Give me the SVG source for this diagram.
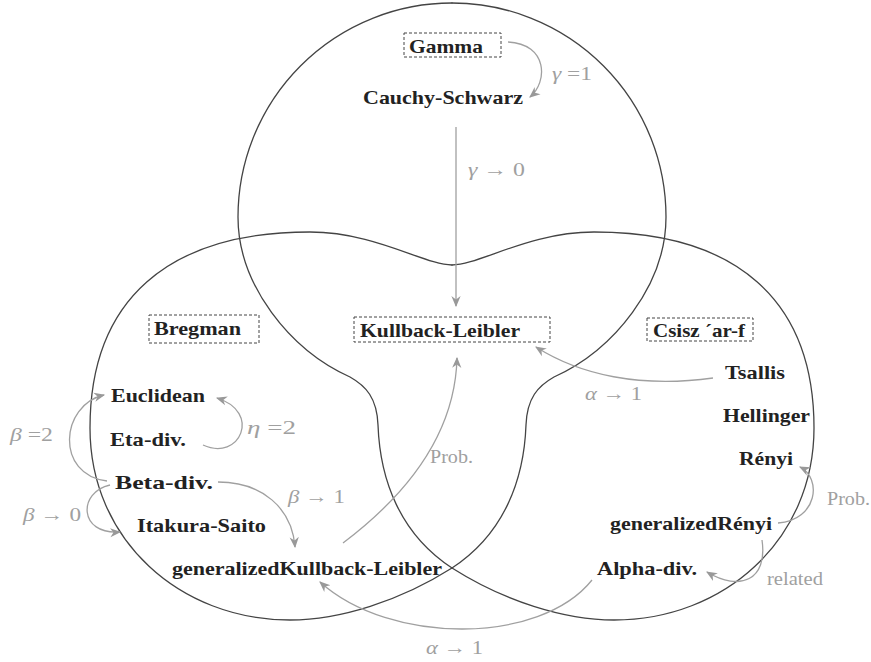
<svg xmlns="http://www.w3.org/2000/svg" width="871" height="662" viewBox="0 0 871 662">
<style>
.blob{fill:none;stroke:#444;stroke-width:1.3;stroke-linecap:round}
.box{fill:none;stroke:#444;stroke-width:1;stroke-dasharray:3 2}
.node{font-family:"Liberation Serif","Times New Roman",serif;font-weight:bold;font-size:19.5px;fill:#222}
.lbl{font-family:"Liberation Serif","Times New Roman",serif;font-size:19px;fill:#a0a0a0}
.it{font-style:italic}
.edge{fill:none;stroke:#a0a0a0;stroke-width:1.3;marker-end:url(#ah)}
</style>
<defs>
<marker id="ah" viewBox="0 0 10 10" refX="9" refY="5" markerWidth="11" markerHeight="11" markerUnits="userSpaceOnUse" orient="auto">
<path d="M0,0.8 L10,5 L0,9.2 L3,5 z" fill="#999"/>
</marker>
</defs>
<rect width="871" height="662" fill="#fff"/>
<g id="regions">
<path class="blob" d="M452,3 A214,214 0 0 0 238,217 C238,285 290,350 350,377 C366,386 377,398 378,425 C380,480 400,534 452,568"/>
<path class="blob" d="M452,3 A214,214 0 0 1 666,217 C666,285 614,350 554,377 C538,386 527,398 526,425 C524,480 504,534 452,568"/>
<path class="blob" d="M452,265 C425,265 375,232 310,232 C168,232 90,300 90,428 C90,540 180,620 290,620 C340,620 400,601 452,568"/>
<path class="blob" d="M452,265 C479,265 529,232 594,232 C736,232 814,300 814,428 C814,540 724,620 614,620 C564,620 504,601 452,568"/>
</g>
<g id="connectors">
<path class="edge" d="M508,42 C548,44 548,82 530,97"/>
<path class="edge" d="M456,127 L456,306"/>
<path class="edge" d="M713,378 C640,388 580,375 536,347"/>
<path class="edge" d="M107,481 C55,475 60,405 104,395"/>
<path class="edge" d="M203,445 C240,462 262,412 217,398"/>
<path class="edge" d="M110,485 C78,492 78,535 120,532"/>
<path class="edge" d="M218,482 C262,482 292,508 295,547"/>
<path class="edge" d="M343,543 C400,500 455,440 457,358"/>
<path class="edge" d="M592,580 C540,645 390,645 320,582"/>
<path class="edge" d="M778,523 C818,520 822,478 800,467"/>
<path class="edge" d="M762,540 C768,580 740,592 707,572"/>
</g>
<g id="edge-labels">
<text class="lbl" x="552" y="80" textLength="40" lengthAdjust="spacingAndGlyphs"><tspan class="it">γ</tspan> =1</text>
<text class="lbl" x="468" y="176" textLength="57" lengthAdjust="spacingAndGlyphs"><tspan class="it">γ</tspan> → 0</text>
<text class="lbl" x="10" y="441" textLength="43" lengthAdjust="spacingAndGlyphs"><tspan class="it">β</tspan> =2</text>
<text class="lbl" x="247" y="434" textLength="49" lengthAdjust="spacingAndGlyphs"><tspan class="it">η</tspan> =2</text>
<text class="lbl" x="23" y="521" textLength="58" lengthAdjust="spacingAndGlyphs"><tspan class="it">β</tspan> → 0</text>
<text class="lbl" x="288" y="503" textLength="57" lengthAdjust="spacingAndGlyphs"><tspan class="it">β</tspan> → 1</text>
<text class="lbl" x="430" y="463" textLength="43" lengthAdjust="spacingAndGlyphs">Prob.</text>
<text class="lbl" x="585" y="400" textLength="57" lengthAdjust="spacingAndGlyphs"><tspan class="it">α</tspan> → 1</text>
<text class="lbl" x="827" y="505" textLength="43" lengthAdjust="spacingAndGlyphs">Prob.</text>
<text class="lbl" x="767" y="585" textLength="56" lengthAdjust="spacingAndGlyphs">related</text>
<text class="lbl" x="426" y="654" textLength="57" lengthAdjust="spacingAndGlyphs"><tspan class="it">α</tspan> → 1</text>
</g>
<g id="gamma"><rect class="box" x="404" y="33" width="97" height="24"/><text class="node" x="409" y="53" textLength="74" lengthAdjust="spacingAndGlyphs">Gamma</text></g>
<g id="cauchy-schwarz"><text class="node" x="363" y="104" textLength="160" lengthAdjust="spacingAndGlyphs">Cauchy-Schwarz</text></g>
<g id="kullback-leibler"><rect class="box" x="354" y="317" width="196" height="25"/><text class="node" x="360" y="337" textLength="160" lengthAdjust="spacingAndGlyphs">Kullback-Leibler</text></g>
<g id="bregman"><rect class="box" x="149" y="315" width="110" height="28"/><text class="node" x="154" y="335" textLength="87" lengthAdjust="spacingAndGlyphs">Bregman</text></g>
<g id="csiszar"><rect class="box" x="647" y="318" width="106" height="23"/><text class="node" x="653" y="337" textLength="92" lengthAdjust="spacingAndGlyphs">Csisz ´ar-f</text></g>
<g id="euclidean"><text class="node" x="111" y="402" textLength="94" lengthAdjust="spacingAndGlyphs">Euclidean</text></g>
<g id="eta-div"><text class="node" x="110" y="446" textLength="76" lengthAdjust="spacingAndGlyphs">Eta-div.</text></g>
<g id="beta-div"><text class="node" x="115" y="489" textLength="98" lengthAdjust="spacingAndGlyphs">Beta-div.</text></g>
<g id="itakura-saito"><text class="node" x="137" y="532" textLength="129" lengthAdjust="spacingAndGlyphs">Itakura-Saito</text></g>
<g id="generalized-kl"><text class="node" x="172" y="575" textLength="270" lengthAdjust="spacingAndGlyphs">generalizedKullback-Leibler</text></g>
<g id="tsallis"><text class="node" x="725" y="379" textLength="60" lengthAdjust="spacingAndGlyphs">Tsallis</text></g>
<g id="hellinger"><text class="node" x="723" y="422" textLength="87" lengthAdjust="spacingAndGlyphs">Hellinger</text></g>
<g id="renyi"><text class="node" x="739" y="465" textLength="54" lengthAdjust="spacingAndGlyphs">Rényi</text></g>
<g id="generalized-renyi"><text class="node" x="610" y="530" textLength="162" lengthAdjust="spacingAndGlyphs">generalizedRényi</text></g>
<g id="alpha-div"><text class="node" x="597" y="575" textLength="100" lengthAdjust="spacingAndGlyphs">Alpha-div.</text></g>
</svg>
